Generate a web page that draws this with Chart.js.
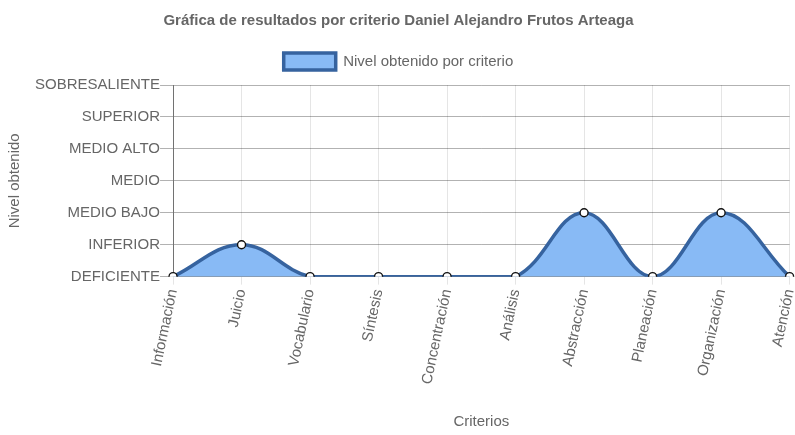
<!DOCTYPE html>
<html>
<head>
<meta charset="utf-8">
<script src="https://cdn.jsdelivr.net/npm/chart.js@4/dist/chart.umd.min.js"></script>
<style>
  body { margin: 0; background: #fff; }
  #wrap { width: 795px; height: 435px; }
</style>
</head>
<body>
<div id="wrap"><canvas id="line-chart"></canvas></div>
<script>
const criterios = ['Información', 'Juicio', 'Vocabulario', 'Síntesis', 'Concentración', 'Análisis', 'Abstracción', 'Planeación', 'Organización', 'Atención'];
const niveles = [0, 1, 0, 0, 0, 0, 2, 0, 2, 0];
const nivelLabels = ['DEFICIENTE', 'INFERIOR', 'MEDIO BAJO', 'MEDIO', 'MEDIO ALTO', 'SUPERIOR', 'SOBRESALIENTE'];

Chart.defaults.font.family = '"Liberation Sans", Arial, sans-serif';
Chart.defaults.color = '#666';

// a little more room under the legend
const legendMargin = {
    id: 'legendMargin',
    beforeInit(chart) {
        const fit = chart.legend.fit;
        chart.legend.fit = function () {
            fit.bind(chart.legend)();
            this.height += 5;
        };
    }
};

let ctx = document.getElementById('line-chart').getContext('2d');
let lineChart = new Chart(ctx, {
    type: 'line',
    data: {
        labels: criterios,
        datasets: [{
            label: 'Nivel obtenido por criterio',
            data: niveles,
            fill: true,
            tension: 0.4,
            borderColor: '#36639f',
            backgroundColor: '#88baf5',
            borderWidth: 3.5,
            pointBackgroundColor: '#fff',
            pointBorderColor: '#111',
            pointBorderWidth: 1.4,
            pointRadius: 4
        }]
    },
    options: {
        responsive: true,
        maintainAspectRatio: false,
        animation: false,
        layout: { padding: { right: 0, left: 2 } },
        plugins: {
            title: {
                display: true,
                text: 'Gráfica de resultados por criterio Daniel Alejandro Frutos Arteaga',
                font: { size: 15, weight: 'bold' },
                color: '#666',
                padding: { top: 12, bottom: 10 }
            },
            legend: {
                labels: {
                    boxWidth: 52,
                    boxHeight: 17,
                    padding: 13,
                    font: { size: 15 },
                    color: '#666'
                }
            },
            tooltip: { enabled: false }
        },
        scales: {
            x: {
                title: { display: true, text: 'Criterios', font: { size: 15 }, color: '#666', padding: { top: 24 } },
                ticks: { font: { size: 15 }, color: '#666', minRotation: 78, maxRotation: 78, autoSkip: false },
                grid: { color: 'rgba(0,0,0,0.1)', tickLength: 8 },
                border: { color: 'rgba(0,0,0,0.25)' },
                afterFit: function (scale) { scale.paddingRight = 0; }
            },
            y: {
                min: 0,
                max: 6,
                title: { display: true, text: 'Nivel obtenido', font: { size: 15 }, color: '#666', padding: { top: 4, bottom: 11 } },
                ticks: {
                    stepSize: 1,
                    font: { size: 15 },
                    color: '#666',
                    padding: 0,
                    callback: function (value) { return nivelLabels[value]; }
                },
                grid: { color: 'rgba(0,0,0,0.3)', tickLength: 13 },
                border: { color: 'rgba(0,0,0,0.5)' }
            }
        }
    },
    plugins: [legendMargin]
});
</script>
</body>
</html>
